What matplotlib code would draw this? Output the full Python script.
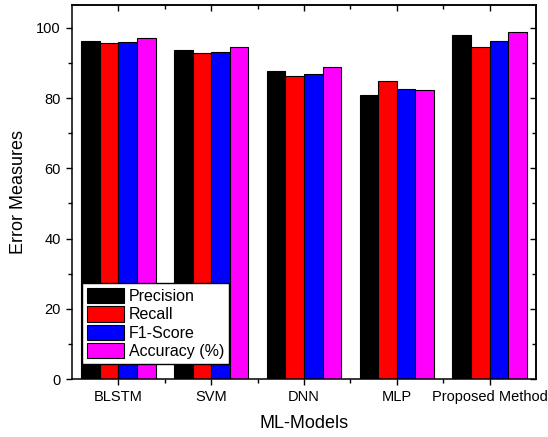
import matplotlib.pyplot as plt
import numpy as np
from matplotlib.ticker import FixedLocator, MultipleLocator

plt.rcParams['font.family'] = ['Liberation Sans', 'DejaVu Sans']

# data
models = ['BLSTM', 'SVM', 'DNN', 'MLP', 'Proposed Method']
precision = [96.3, 93.6, 87.7, 80.8, 97.9]
recall = [95.7, 92.8, 86.4, 84.9, 94.5]
f1_score = [96.0, 93.1, 87.0, 82.7, 96.2]
accuracy = [97.1, 94.5, 88.8, 82.4, 98.8]

series = [('Precision', precision, '#000000'),
          ('Recall', recall, '#ff0000'),
          ('F1-Score', f1_score, '#0000ff'),
          ('Accuracy (%)', accuracy, '#ff00ff')]

fig = plt.figure(figsize=(5.48, 4.37), dpi=100)
ax = fig.add_axes([0.1314, 0.1327, 0.8467, 0.8563])

x = np.arange(len(models))
w = 0.2
for i, (name, vals, col) in enumerate(series):
    ax.bar(x + (i - 1.5) * w, vals, w, color=col, edgecolor='black',
           linewidth=0.8, label=name)

ax.set_xlim(-0.5, 4.5)
ax.set_ylim(0, 106.6)
ax.set_xticks(x)
ax.set_xticklabels(models, fontsize=10.5)
ax.xaxis.set_minor_locator(FixedLocator([0.5, 1.5, 2.5, 3.5]))
ax.yaxis.set_major_locator(MultipleLocator(20))
ax.yaxis.set_minor_locator(MultipleLocator(10))
ax.tick_params(axis='both', which='major', direction='out', length=4.5,
               width=1, labelsize=10.5)
ax.tick_params(axis='both', which='minor', direction='out', length=3, width=1)
ax.tick_params(axis='y', which='minor', labelleft=False)

for s in ax.spines.values():
    s.set_linewidth(1.1)

# top and right ticks point inwards
top = ax.secondary_xaxis('top')
top.set_xticks(x)
top.xaxis.set_minor_locator(FixedLocator([0.5, 1.5, 2.5, 3.5]))
top.tick_params(which='major', direction='in', length=4.5, width=1, labeltop=False)
top.tick_params(which='minor', direction='in', length=3, width=1)
top.spines['top'].set_linewidth(1.1)

right = ax.secondary_yaxis('right')
right.yaxis.set_major_locator(MultipleLocator(20))
right.yaxis.set_minor_locator(MultipleLocator(10))
right.tick_params(which='major', direction='in', length=4.5, width=1, labelright=False)
right.tick_params(which='minor', direction='in', length=3, width=1, labelright=False)
right.spines['right'].set_linewidth(1.1)

ax.set_xlabel('ML-Models', fontsize=13, labelpad=8)
ax.set_ylabel('Error Measures', fontsize=13, labelpad=7)

leg = ax.legend(loc='lower left', bbox_to_anchor=(0.021, 0.04),
                borderaxespad=0, fontsize=11.5, handlelength=2.35,
                handleheight=1.1, labelspacing=0.15, handletextpad=0.3,
                borderpad=0.3, fancybox=False, framealpha=1, edgecolor='black')
leg.get_frame().set_linewidth(1.0)

fig.savefig('out.png', dpi=100)
